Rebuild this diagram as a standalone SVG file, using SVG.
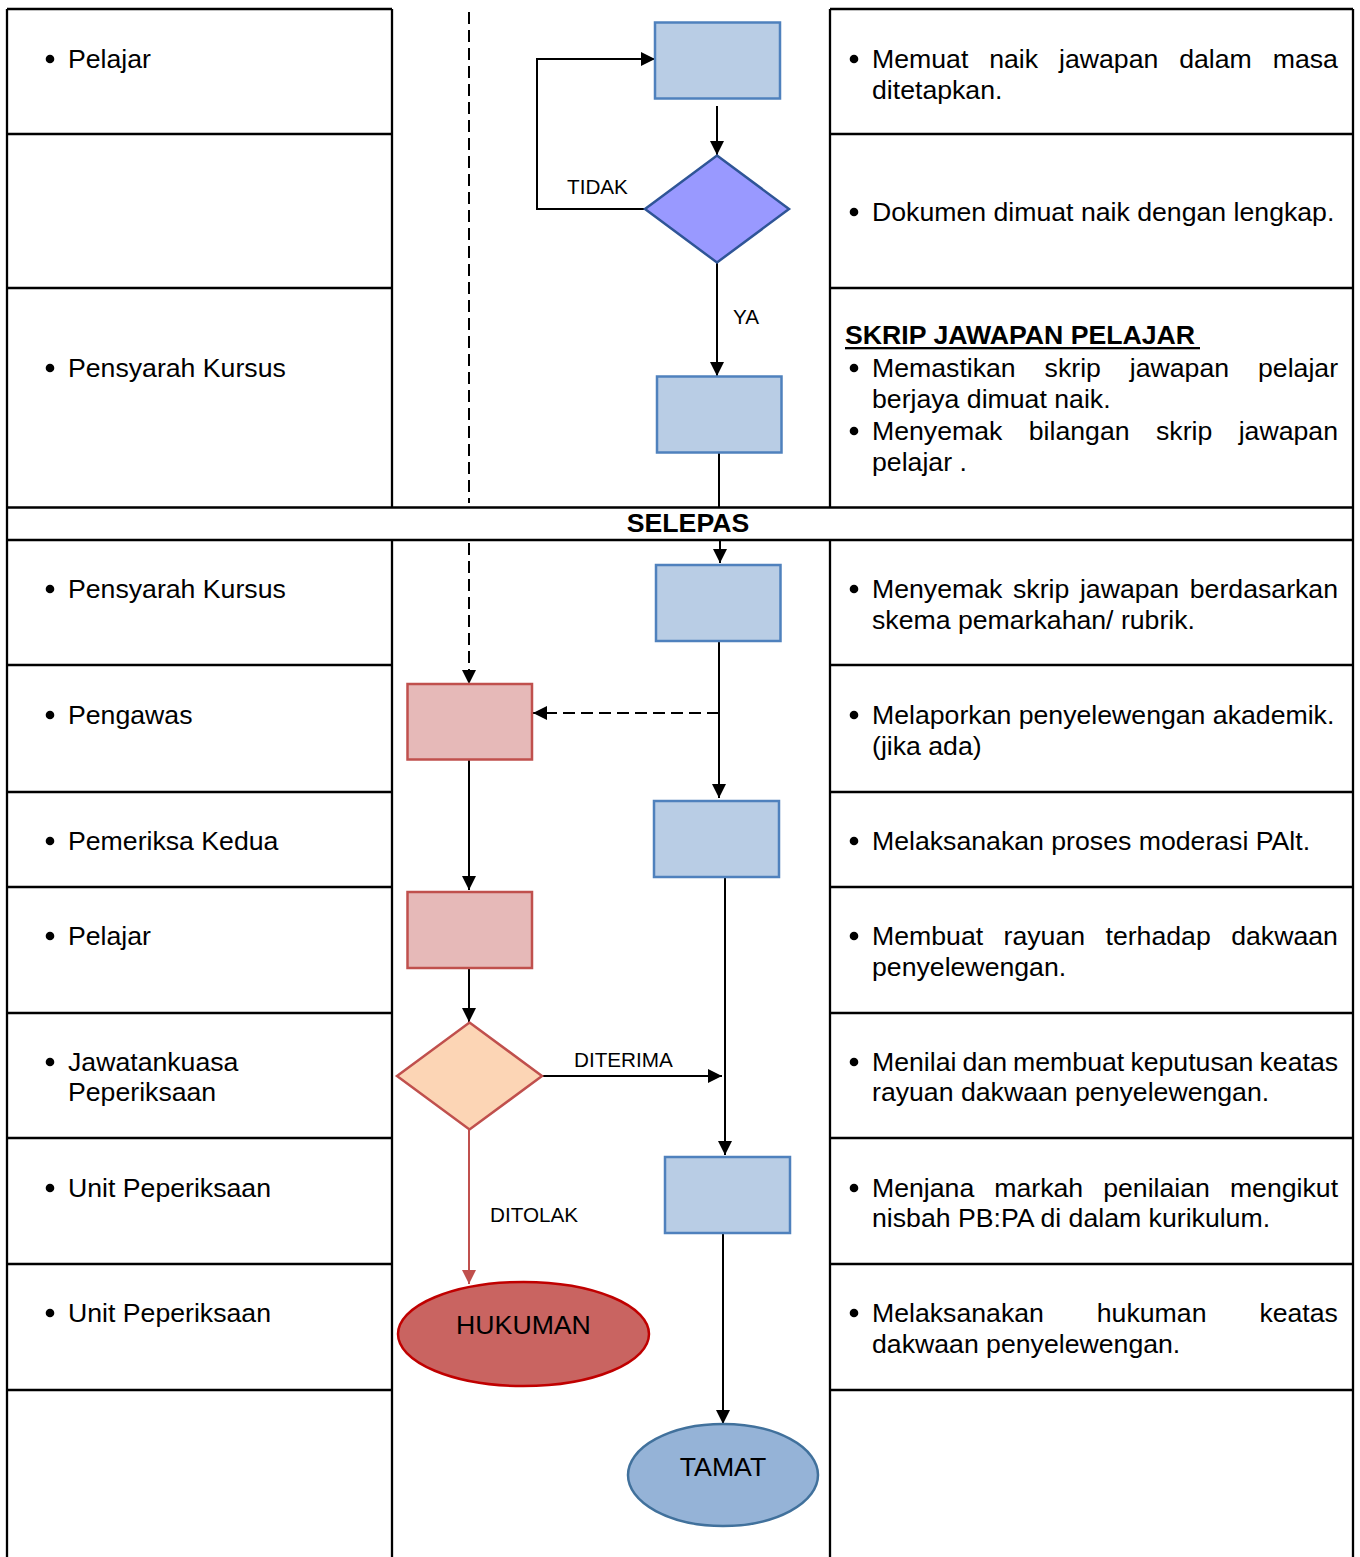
<svg xmlns="http://www.w3.org/2000/svg" width="1360" height="1557" viewBox="0 0 1360 1557">
<defs>
<marker id="ah" viewBox="0 0 10 10" refX="10" refY="5" markerWidth="15" markerHeight="14" markerUnits="userSpaceOnUse" orient="auto"><path d="M0,0 L10,5 L0,10 z" fill="#000"/></marker>
<marker id="ahr" viewBox="0 0 10 10" refX="10" refY="5" markerWidth="15" markerHeight="14" markerUnits="userSpaceOnUse" orient="auto"><path d="M0,0 L10,5 L0,10 z" fill="#c0504d"/></marker>
</defs>
<style>
.t{font-family:"Liberation Sans",Arial,sans-serif;font-size:26.67px;fill:#000}
.b{font-weight:bold}
.lbl{font-family:"Liberation Sans",Arial,sans-serif;font-size:20.7px;fill:#000}
.grid{stroke:#000;stroke-width:2.3;fill:none}
.blue{fill:#b9cde5;stroke:#4f81bd;stroke-width:2.5}
.pink{fill:#e6b9b8;stroke:#c0504d;stroke-width:2.5}
.con{stroke:#000;stroke-width:2;fill:none}
.dash{stroke-dasharray:12 6}
.bul{fill:#000}
</style>
<rect width="1360" height="1557" fill="#fff"/>

<g id="table" class="grid">
<path d="M7,9 V1557 M392,9 V507.5 M392,540 V1557 M830,9 V507.5 M830,540 V1557 M1353,9 V1557"/>
<path d="M7,9 H392 M7,134 H392 M7,288 H392 M7,665 H392 M7,792 H392 M7,887 H392 M7,1013 H392 M7,1138 H392 M7,1264 H392 M7,1390 H392"/>
<path d="M830,9 H1353 M830,134 H1353 M830,288 H1353 M830,665 H1353 M830,792 H1353 M830,887 H1353 M830,1013 H1353 M830,1138 H1353 M830,1264 H1353 M830,1390 H1353"/>
<path d="M7,507.5 H1353 M7,540 H1353"/>
</g>

<g id="left-col">
<circle class="bul" cx="50" cy="59" r="4.3"/><text class="t" x="68" y="68">Pelajar</text>
<circle class="bul" cx="50" cy="368" r="4.3"/><text class="t" x="68" y="377">Pensyarah Kursus</text>
<circle class="bul" cx="50" cy="589" r="4.3"/><text class="t" x="68" y="598">Pensyarah Kursus</text>
<circle class="bul" cx="50" cy="715" r="4.3"/><text class="t" x="68" y="724">Pengawas</text>
<circle class="bul" cx="50" cy="841" r="4.3"/><text class="t" x="68" y="850">Pemeriksa Kedua</text>
<circle class="bul" cx="50" cy="936" r="4.3"/><text class="t" x="68" y="945">Pelajar</text>
<circle class="bul" cx="50" cy="1062" r="4.3"/><text class="t" x="68" y="1071">Jawatankuasa</text><text class="t" x="68" y="1101">Peperiksaan</text>
<circle class="bul" cx="50" cy="1188" r="4.3"/><text class="t" x="68" y="1197">Unit Peperiksaan</text>
<circle class="bul" cx="50" cy="1313" r="4.3"/><text class="t" x="68" y="1322">Unit Peperiksaan</text>
</g>

<g id="right-col">
<circle class="bul" cx="854" cy="59" r="4.3"/>
<text class="t" y="68"><tspan x="872">Memuat</tspan><tspan x="989.2">naik</tspan><tspan x="1059">jawapan</tspan><tspan x="1179.2">dalam</tspan><tspan x="1272.7">masa</tspan></text>
<text class="t" x="872" y="98.5">ditetapkan.</text>

<circle class="bul" cx="854" cy="212" r="4.3"/>
<text class="t" x="872" y="221">Dokumen dimuat naik dengan lengkap.</text>

<text class="t b" x="845" y="344">SKRIP JAWAPAN PELAJAR</text>
<rect x="845" y="347" width="355" height="2.3" fill="#000"/>
<circle class="bul" cx="854" cy="368" r="4.3"/>
<text class="t" y="377"><tspan x="872">Memastikan</tspan><tspan x="1044.6">skrip</tspan><tspan x="1129.8">jawapan</tspan><tspan x="1258">pelajar</tspan></text>
<text class="t" x="872" y="408">berjaya dimuat naik.</text>
<circle class="bul" cx="854" cy="431" r="4.3"/>
<text class="t" y="440"><tspan x="872">Menyemak</tspan><tspan x="1028.8">bilangan</tspan><tspan x="1156">skrip</tspan><tspan x="1238.7">jawapan</tspan></text>
<text class="t" x="872" y="471">pelajar .</text>

<text class="t b" x="688" y="532" text-anchor="middle">SELEPAS</text>

<circle class="bul" cx="854" cy="589" r="4.3"/>
<text class="t" y="598"><tspan x="872">Menyemak</tspan><tspan x="1013">skrip</tspan><tspan x="1079.9">jawapan</tspan><tspan x="1189.8">berdasarkan</tspan></text>
<text class="t" x="872" y="629">skema pemarkahan/ rubrik.</text>

<circle class="bul" cx="854" cy="715" r="4.3"/>
<text class="t" x="872" y="724">Melaporkan penyelewengan akademik.</text>
<text class="t" x="872" y="755">(jika ada)</text>

<circle class="bul" cx="854" cy="841" r="4.3"/>
<text class="t" x="872" y="850">Melaksanakan proses moderasi PAlt.</text>

<circle class="bul" cx="854" cy="936" r="4.3"/>
<text class="t" y="945"><tspan x="872">Membuat</tspan><tspan x="1003.6">rayuan</tspan><tspan x="1105.5">terhadap</tspan><tspan x="1231.2">dakwaan</tspan></text>
<text class="t" x="872" y="976">penyelewengan.</text>

<circle class="bul" cx="854" cy="1062" r="4.3"/>
<text class="t" y="1071"><tspan x="872">Menilai</tspan><tspan x="962.5">dan</tspan><tspan x="1013.1">membuat</tspan><tspan x="1130.4">keputusan</tspan><tspan x="1259.5">keatas</tspan></text>
<text class="t" x="872" y="1101">rayuan dakwaan penyelewengan.</text>

<circle class="bul" cx="854" cy="1188" r="4.3"/>
<text class="t" y="1197"><tspan x="872">Menjana</tspan><tspan x="994.3">markah</tspan><tspan x="1103.2">penilaian</tspan><tspan x="1229.9">mengikut</tspan></text>
<text class="t" x="872" y="1227">nisbah PB:PA di dalam kurikulum.</text>

<circle class="bul" cx="854" cy="1313" r="4.3"/>
<text class="t" y="1322"><tspan x="872">Melaksanakan</tspan><tspan x="1096.8">hukuman</tspan><tspan x="1259.4">keatas</tspan></text>
<text class="t" x="872" y="1353">dakwaan penyelewengan.</text>
</g>

<g id="connectors">
<path class="con dash" d="M469,12 V503"/>
<path class="con dash" d="M469,543 V684" marker-end="url(#ah)"/>
<path class="con" d="M717,106 V155" marker-end="url(#ah)"/>
<path class="con" d="M645,209 H537 V59 H655" marker-end="url(#ah)"/>
<path class="con" d="M717,263 V376" marker-end="url(#ah)"/>
<path class="con" d="M719,452 V507"/>
<path class="con" d="M720,540 V563" marker-end="url(#ah)"/>
<path class="con" d="M719,641 V798" marker-end="url(#ah)"/>
<path class="con dash" d="M719,713 H533" marker-end="url(#ah)"/>
<path class="con" d="M469,760 V890" marker-end="url(#ah)"/>
<path class="con" d="M469,968 V1022" marker-end="url(#ah)"/>
<path class="con" d="M542,1076 H722" marker-end="url(#ah)"/>
<path class="con" d="M725,878 V1155" marker-end="url(#ah)"/>
<path class="con" d="M723,1233 V1424" marker-end="url(#ah)"/>
<path d="M469,1130 V1284" fill="none" stroke="#c0504d" stroke-width="2" marker-end="url(#ahr)"/>
<text class="lbl" x="567" y="194">TIDAK</text>
<text class="lbl" x="733" y="324">YA</text>
<text class="lbl" x="574" y="1067">DITERIMA</text>
<text class="lbl" x="490" y="1221.5">DITOLAK</text>
</g>

<g id="n-upload"><rect class="blue" x="655" y="22.5" width="125" height="76"/></g>
<g id="n-check"><polygon points="717,155.5 789,209 717,262.5 645,209" fill="#9999ff" stroke="#2f5597" stroke-width="2.5"/></g>
<g id="n-verify"><rect class="blue" x="657" y="376.5" width="124.5" height="76"/></g>
<g id="n-mark"><rect class="blue" x="656" y="565" width="124.5" height="76"/></g>
<g id="n-report"><rect class="pink" x="407.5" y="684" width="124.5" height="75.5"/></g>
<g id="n-moderate"><rect class="blue" x="654" y="801" width="125" height="76"/></g>
<g id="n-appeal"><rect class="pink" x="407.5" y="892" width="124.5" height="76"/></g>
<g id="n-decide"><polygon points="469.5,1022.5 542,1076 469.5,1129.5 397,1076" fill="#fcd5b5" stroke="#c0504d" stroke-width="2.5"/></g>
<g id="n-generate"><rect class="blue" x="665" y="1157" width="125" height="76"/></g>
<g id="n-hukuman"><ellipse cx="523.5" cy="1334" rx="125.5" ry="52" fill="#c96461" stroke="#c00000" stroke-width="2.5"/><text class="t" x="523.5" y="1334" text-anchor="middle">HUKUMAN</text></g>
<g id="n-tamat"><ellipse cx="723" cy="1475" rx="95" ry="51" fill="#95b3d7" stroke="#41719c" stroke-width="2.5"/><text class="t" x="723" y="1476" text-anchor="middle">TAMAT</text></g>
</svg>
